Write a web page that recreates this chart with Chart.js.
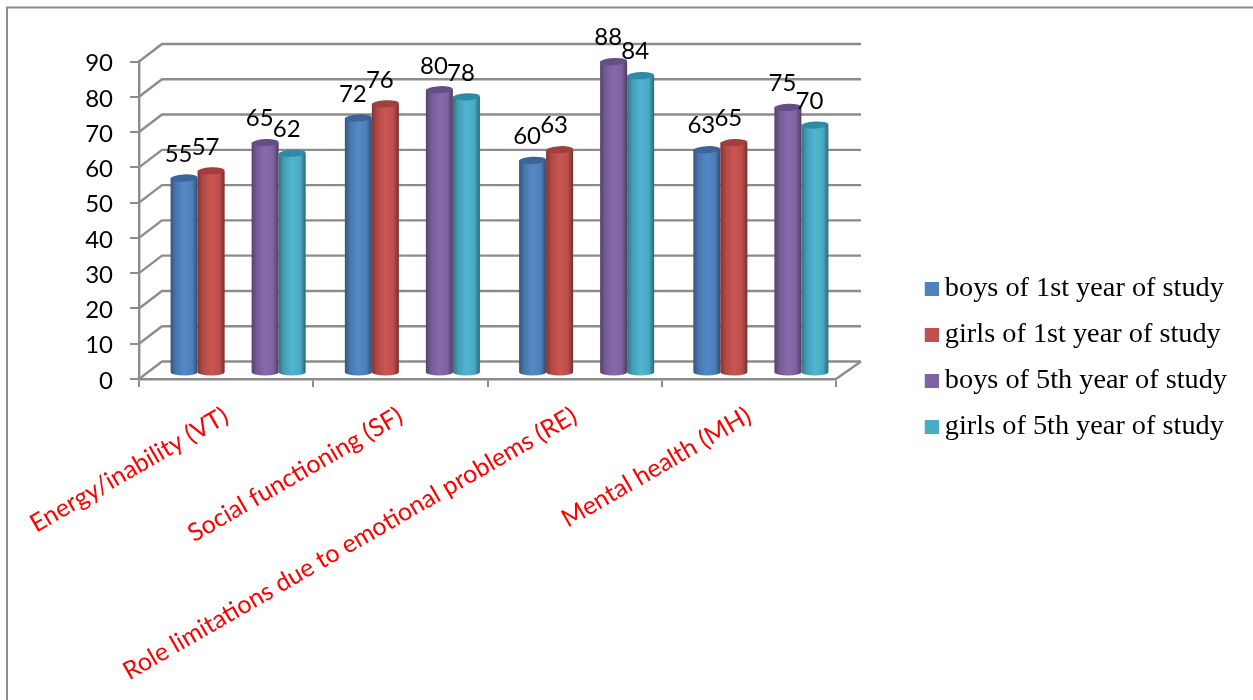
<!DOCTYPE html>
<html>
<head>
<meta charset="utf-8">
<style>html,body{margin:0;padding:0;background:#fff}canvas{display:block}</style>
<script src="https://cdn.jsdelivr.net/npm/chart.js@4"></script>
</head>
<body>
<canvas id="c" width="1253" height="700"></canvas>
<script>
const categories = ["Energy/inability (VT)", "Social functioning (SF)", "Role limitations due to emotional problems (RE)", "Mental health (MH)"];
const boys1 = [55, 72, 60, 63];
const girls1 = [57, 76, 63, 65];
const spacer = [null, null, null, null];
const boys5 = [65, 80, 88, 75];
const girls5 = [62, 78, 84, 70];
const seriesNames = ["boys of 1st year of study", "girls of 1st year of study", "", "boys of 5th year of study", "girls of 5th year of study"];
const yTicks = [0, 10, 20, 30, 40, 50, 60, 70, 80, 90];
const colors = ["#4F81BD", "#C0504D", "#ffffff", "#8064A2", "#4BACC6"];
const capColors = ["#3A6596", "#A03F3C", "#ffffff", "#654E84", "#2F8AA3"];

const GRID = "#8C8C8C";
const DEPTH_X = 23, DEPTH_Y = 17.5;   // depth of the 3D walls
const BAR_DX = 12, BAR_DY = -7;       // bars stand in the middle of the floor

function shade(hex, f) {
  const n = parseInt(hex.slice(1), 16);
  const c = [n >> 16, (n >> 8) & 255, n & 255].map(v => Math.min(255, Math.round(v * f)));
  return `rgb(${c[0]},${c[1]},${c[2]})`;
}
function marker(color) {
  const m = document.createElement("canvas");
  m.width = 18; m.height = 14;
  const g = m.getContext("2d");
  g.fillStyle = color; g.fillRect(4, 0, 14, 14);
  return m;
}

const cylinders = {
  id: "cylinders",
  beforeLayout(chart) {
    const l = chart.legend, fit = l.fit;
    l.fit = function () { fit.call(this); this.width = 417; };
  },
  afterLayout(chart) {
    const l = chart.legend;
    l.left = 911; l.right = 1253; l.top = 257; l.bottom = 700;
  },
  beforeDraw(chart) {
    const c = chart.ctx;
    c.save();
    c.strokeStyle = "#8E8E8E"; c.lineWidth = 2;
    c.beginPath(); c.moveTo(7, 700); c.lineTo(7, 7.5); c.lineTo(1253, 7.5); c.stroke();
    c.restore();
  },
  beforeDatasetsDraw(chart) {
    const c = chart.ctx, a = chart.chartArea, y = chart.scales.y;
    c.save();
    c.lineWidth = 2.4; c.strokeStyle = GRID; c.lineJoin = "round";
    yTicks.forEach(v => {
      const p = y.getPixelForValue(v);
      c.beginPath();
      c.moveTo(a.left, p);
      c.lineTo(a.left + DEPTH_X, p - DEPTH_Y);
      c.lineTo(a.right + DEPTH_X + 2, p - DEPTH_Y);
      c.stroke();
    });
    const p0 = y.getPixelForValue(0);
    c.beginPath();
    c.moveTo(a.right, p0);
    c.lineTo(a.right + DEPTH_X + 2, p0 - DEPTH_Y);
    c.stroke();
    c.restore();
  },
  afterDatasetsDraw(chart) {
    const c = chart.ctx, y = chart.scales.y;
    const base = y.getPixelForValue(0) + BAR_DY;
    chart.data.datasets.forEach((ds, di) => {
      if (di === 2) return;
      chart.getDatasetMeta(di).data.forEach((el, i) => {
        const w = el.width, x0 = el.x - w / 2 + BAR_DX, x1 = x0 + w, xc = x0 + w / 2;
        const top = el.y + BAR_DY, ry = 3.6;
        const g = c.createLinearGradient(x0, 0, x1, 0);
        const col = colors[di];
        g.addColorStop(0, shade(col, 0.66));
        g.addColorStop(0.2, shade(col, 0.92));
        g.addColorStop(0.5, shade(col, 1.06));
        g.addColorStop(0.8, shade(col, 0.98));
        g.addColorStop(1, shade(col, 0.6));
        c.save();
        c.fillStyle = g;
        c.beginPath();
        c.moveTo(x0, top);
        c.lineTo(x1, top);
        c.lineTo(x1, base);
        c.ellipse(xc, base, w / 2, ry, 0, 0, Math.PI);
        c.closePath();
        c.fill();
        c.fillStyle = capColors[di];
        c.beginPath();
        c.ellipse(xc, top, w / 2, ry, -0.05, 0, Math.PI * 2);
        c.fill();
        c.fillStyle = "#000";
        c.font = "24px Lato";
        c.textAlign = "center";
        c.textBaseline = "middle";
        c.fillText(String(ds.data[i]), xc - 5.5, top - 24);
        c.restore();
      });
    });
  }
};

const rows = [boys1, girls1, spacer, boys5, girls5];
new Chart(document.getElementById("c"), {
  type: "bar",
  plugins: [cylinders],
  data: {
    labels: categories,
    datasets: rows.map((r, i) => ({
      label: seriesNames[i],
      data: r,
      backgroundColor: "rgba(0,0,0,0)",
      borderWidth: 0,
      barPercentage: 1,
      categoryPercentage: 0.775
    }))
  },
  options: {
    responsive: false,
    animation: false,
    devicePixelRatio: 1,
    layout: { padding: { top: 61.5, left: 0, right: 0, bottom: 0 } },
    plugins: {
      tooltip: { enabled: false },
      legend: {
        position: "right",
        align: "start",
        labels: {
          color: "#000",
          font: { family: "'Liberation Serif'", size: 28.3 },
          padding: 17.7,
          usePointStyle: true,
          pointStyleWidth: 2,
          generateLabels(chart) {
            return Chart.defaults.plugins.legend.labels.generateLabels(chart)
              .filter(it => it.text !== "")
              .map(it => ({ ...it, pointStyle: marker(colors[it.datasetIndex]) }));
          }
        }
      }
    },
    scales: {
      x: {
        afterFit(s) { s.height = 321; },
        grid: { drawOnChartArea: false, drawTicks: true, tickLength: 8, color: GRID, lineWidth: 2 },
        border: { color: GRID, width: 2.4 },
        ticks: {
          color: "#FF0000",
          font: { family: "Lato", size: 25 },
          minRotation: 30, maxRotation: 30,
          autoSkip: false,
          padding: 14
        }
      },
      y: {
        min: 0, max: 90,
        afterFit(s) { s.width = 139; },
        afterBuildTicks(s) { s.ticks = yTicks.map(v => ({ value: v })); },
        grid: { drawOnChartArea: false, drawTicks: true, tickLength: 9, color: GRID, lineWidth: 2 },
        border: { color: GRID, width: 2.4 },
        ticks: {
          color: "#000",
          font: { family: "Lato", size: 24 },
          padding: 17,
          labelOffset: 2
        }
      }
    }
  }
});
</script>
</body>
</html>
